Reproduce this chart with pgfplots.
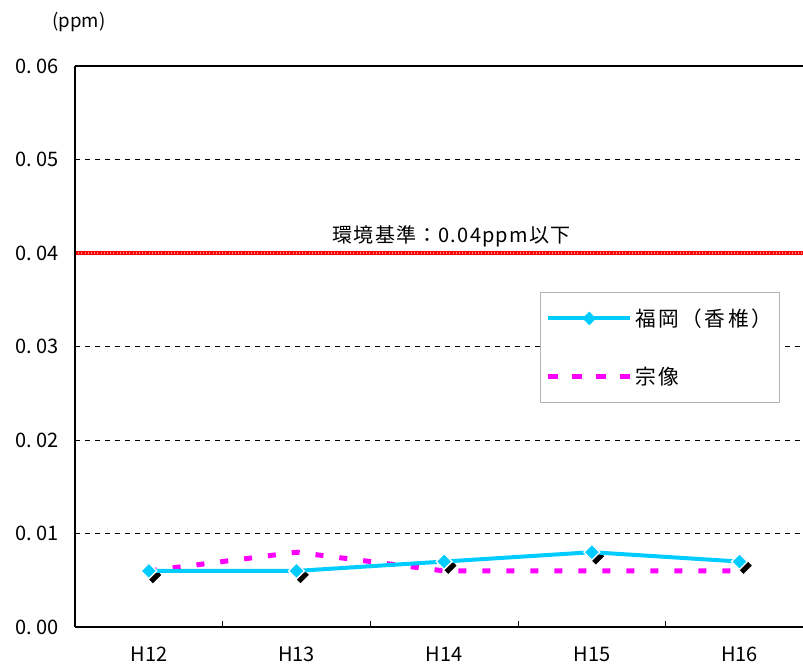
\documentclass[border=0pt]{standalone}
\usepackage{fontspec}
\setmainfont{Noto Sans CJK JP}
\newfontfamily\jpls[LetterSpace=12]{Noto Sans CJK JP}
\newfontfamily\jpsm[LetterSpace=6]{Noto Sans CJK JP}
\usepackage{pgfplots}
\usepackage{pgfplotstable}
\pgfplotsset{compat=1.18}

\definecolor{fukuoka}{RGB}{0,204,255}
\definecolor{munakata}{RGB}{255,0,255}

% 年度: H12..H16 -> 0..4
\pgfplotstableread{
x fukuoka munakata
0 0.006 0.006
1 0.006 0.008
2 0.007 0.006
3 0.008 0.006
4 0.007 0.006
}\datatable

\begin{document}
\begin{tikzpicture}
\useasboundingbox (-56.25pt,-30.75pt) rectangle (546pt,470.25pt);
\begin{axis}[
    at={(0,0)}, anchor=south west,
    scale only axis,
    width=546pt, height=420.75pt,
    xmin=-0.5, xmax=4.43,
    ymin=0, ymax=0.06,
    xtick={0,1,2,3,4},
    xticklabels={H12,H13,H14,H15,H16},
    minor xtick={0.5,1.5,2.5,3.5},
    xtick pos=bottom, xtick align=inside,
    major x tick style={draw=none},
    minor tick length=4.5pt,
    minor x tick style={black, line width=0.6pt},
    ytick={0,0.01,0.02,0.03,0.04,0.05,0.06},
    yticklabels={0.\hspace{3pt}00,0.\hspace{3pt}01,0.\hspace{3pt}02,0.\hspace{3pt}03,0.\hspace{3pt}04,0.\hspace{3pt}05,0.\hspace{3pt}06},
    ytick style={draw=none},
    scaled y ticks=false,
    ymajorgrids,
    grid style={black, line width=0.6pt, dash pattern=on 3.75pt off 3.75pt},
    separate axis lines,
    every outer y axis line/.append style={draw=none},
    axis line style={line width=1.2pt},
    tick label style={font=\fontsize{15}{17}\selectfont},
    yticklabel style={xshift=-9pt},
    xticklabel style={yshift=-11pt},
    clip mode=individual,
    legend style={
        at={(0.6387,0.597)}, anchor=north west,
        draw=gray!60, line width=0.75pt,
        font=\jpls\fontsize{15.5}{17}\selectfont,
        inner xsep=4pt, inner ysep=10pt,
        row sep=25pt,
    },
    legend cell align=left,
]

% 環境基準
\addplot[red, line width=3.5pt, forget plot] coordinates {(-0.5,0.04) (4.43,0.04)};
\addplot[red!45, line width=1pt, dash pattern=on 0.8pt off 1.6pt, forget plot] coordinates {(-0.5,0.04) (4.43,0.04)};

% 宗像 (破線)
\addplot[munakata, line width=3.75pt, dash pattern=on 6pt off 12pt, forget plot]
    table[x=x, y=munakata] {\datatable};

% 福岡 マーカーの影
\addplot[only marks, mark=square*, mark size=4.2pt, black,
    mark options={xshift=3pt, yshift=-3pt, rotate=45}, forget plot]
    table[x=x, y=fukuoka] {\datatable};

% 福岡（香椎）
\addplot[fukuoka, line width=3pt, mark=square*, mark size=4.2pt,
    mark options={rotate=45, fill=fukuoka, draw=white, line width=1pt, solid},
    legend image code/.code={
        \draw[fukuoka, line width=3pt] (0pt,0pt) -- (61.5pt,0pt);
        \fill[fukuoka] (30.75pt,0pt) +(0,3pt) -- +(3pt,0) -- +(0,-3pt) -- +(-3pt,0) -- cycle;
    }]
    table[x=x, y=fukuoka] {\datatable};
\addlegendentry{福岡（香椎）}

% 宗像 凡例用
\addlegendimage{legend image code/.code={
    \draw[munakata, line width=3.75pt, dash pattern=on 7.5pt off 10.5pt] (0pt,0pt) -- (61.5pt,0pt);
}}
\addlegendentry{宗像}

\draw[line width=1.2pt] (rel axis cs:0,0) -- (rel axis cs:0,1);

\node[font=\jpsm\fontsize{15}{17}\selectfont, anchor=base] at (axis cs:2.05,0.04) [yshift=7.5pt] {環境基準：0.04ppm以下};
\node[font=\fontsize{14}{16}\selectfont] at (rel axis cs:0,1) [xshift=3pt, yshift=33pt] {(ppm)};

\end{axis}
\end{tikzpicture}
\end{document}
